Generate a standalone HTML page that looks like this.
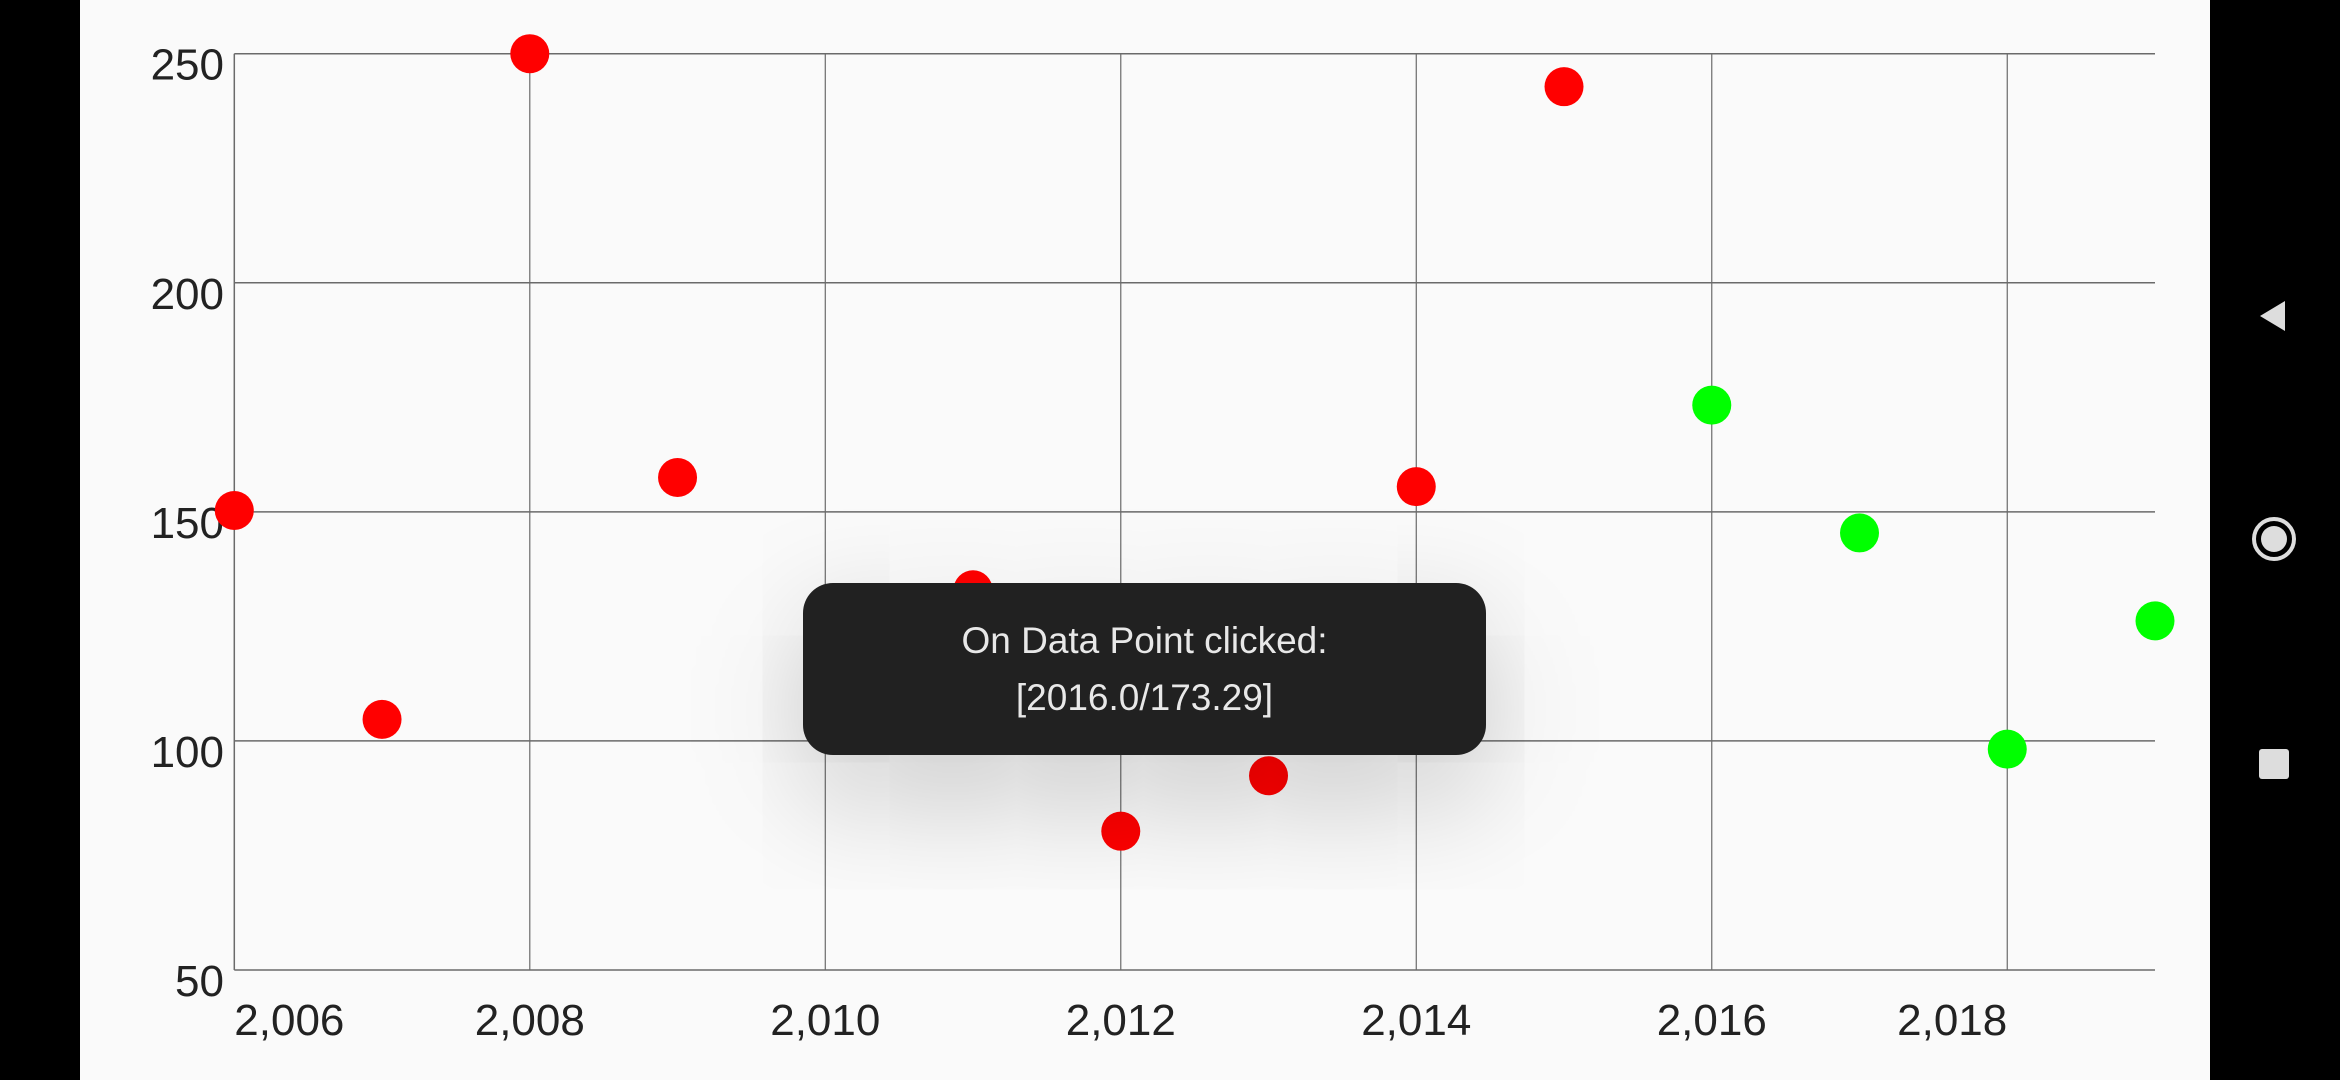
<!DOCTYPE html>
<html><head><meta charset="utf-8"><style>
html,body{margin:0;padding:0;width:2340px;height:1080px;overflow:hidden;background:#000;font-family:"Liberation Sans",sans-serif}
#screen{position:absolute;left:80px;top:0;width:2130px;height:1080px;background:#fafafa}
#tip{position:absolute;left:803px;top:583px;width:683px;height:172px;border-radius:30px;background:#212121;color:#e8e8e8;text-align:center;font-size:37px;line-height:57px;box-shadow:0 40px 120px rgba(0,0,0,0.22);display:flex;flex-direction:column;justify-content:center}
</style></head><body>
<div id="screen"></div>
<svg id="chart" width="2340" height="1080" style="position:absolute;left:0;top:0"></svg>
<div id="tip"><div>On Data Point clicked:</div><div>[2016.0/173.29]</div></div>
<svg width="2340" height="1080" style="position:absolute;left:0;top:0;pointer-events:none">
<polygon points="2260,316 2285,301 2285,331" fill="#ddd"/>
<circle cx="2274" cy="539" r="20" fill="none" stroke="#ddd" stroke-width="4"/>
<circle cx="2274" cy="539" r="13" fill="#ddd"/>
<rect x="2259" y="749" width="30" height="30" rx="3" fill="#ddd"/>
</svg>
<script>
const redYears=[2006,2007,2008,2009,2011,2012,2013,2014,2015];
const redValues=[150.3,104.7,250,157.5,133,80.3,92.4,155.5,242.8];
const greenYears=[2016,2017,2018,2019];
const greenValues=[173.29,145.4,98.2,126.2];
const yTicks=[50,100,150,200,250];
const xGridYears=[2008,2010,2012,2014,2016,2018];
const xTickYears=[2006,2008,2010,2012,2014,2016,2018];
const xTickLabels=["2,006","2,008","2,010","2,012","2,014","2,016","2,018"];
const NS="http://www.w3.org/2000/svg";
const svg=document.getElementById('chart');
const X0=234.3,X1=2155,Y0=970,Y1=53.7;
const xs=v=>X0+(v-2006)/(2019-2006)*(X1-X0);
const ys=v=>Y0-(v-50)/(250-50)*(Y0-Y1);
function mk(t,a){const e=document.createElementNS(NS,t);for(const k in a)e.setAttribute(k,a[k]);svg.appendChild(e);return e;}
yTicks.forEach(v=>{
 const l=mk('line',{x1:X0,x2:X1,y1:ys(v),y2:ys(v),stroke:'#6a6a6a','stroke-width':1.5});
 
 
 const t=mk('text',{x:224,y:ys(v)+26,'text-anchor':'end','font-size':44,fill:'#222'});
 t.textContent=v;
 
 
});
const lx=mk('line',{x1:X0,x2:X0,y1:Y1,y2:Y0,stroke:'#6a6a6a','stroke-width':1.5});


xGridYears.forEach(v=>{
 const l=mk('line',{x1:xs(v),x2:xs(v),y1:Y1,y2:Y0,stroke:'#6a6a6a','stroke-width':1.2});
 
 
});
xTickYears.forEach((v,i)=>{
 const anchor=i===0?'start':(i===xTickYears.length-1?'end':'middle');
 const t=mk('text',{x:xs(v),y:1035,'text-anchor':anchor,'font-size':44,fill:'#222'});
 t.textContent=xTickLabels[i];
 
 
});
redYears.forEach((v,i)=>{
 const c=mk('circle',{cx:xs(v),cy:ys(redValues[i]),r:19.5,fill:'#ff0000'});
 
 
});
greenYears.forEach((v,i)=>{
 const c=mk('circle',{cx:xs(v),cy:ys(greenValues[i]),r:19.5,fill:'#00ff00'});
 
 
});
</script>
</body></html>
